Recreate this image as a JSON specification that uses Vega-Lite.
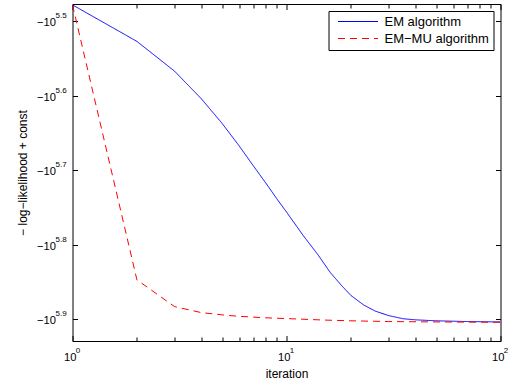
{
  "$schema": "https://vega.github.io/schema/vega-lite/v6.json",
  "width": 428,
  "height": 337,
  "autosize": {"type": "none"},
  "padding": {"left": 72.5, "top": 4, "right": 16.5, "bottom": 44},
  "config": {
    "view": {"stroke": "black", "strokeWidth": 1},
    "font": "Liberation Sans",
    "axis": {"domain": false, "grid": false, "tickColor": "black", "labelColor": "black", "titleColor": "black", "labelFont": "Liberation Sans", "titleFont": "Liberation Sans", "titleFontWeight": "normal", "labelFontSize": 11.2, "titleFontSize": 12}
  },
  "resolve": {"axis": {"x": "independent", "y": "independent"}},
  "layer": [
    {
      "data": {"values": [
        {"it": 1, "e": 5.478, "s": "EM algorithm"},
        {"it": 2, "e": 5.527, "s": "EM algorithm"},
        {"it": 3, "e": 5.567, "s": "EM algorithm"},
        {"it": 4, "e": 5.604, "s": "EM algorithm"},
        {"it": 5, "e": 5.637, "s": "EM algorithm"},
        {"it": 6, "e": 5.667, "s": "EM algorithm"},
        {"it": 7, "e": 5.694, "s": "EM algorithm"},
        {"it": 8, "e": 5.717, "s": "EM algorithm"},
        {"it": 9, "e": 5.738, "s": "EM algorithm"},
        {"it": 10, "e": 5.756, "s": "EM algorithm"},
        {"it": 12, "e": 5.788, "s": "EM algorithm"},
        {"it": 14, "e": 5.813, "s": "EM algorithm"},
        {"it": 16, "e": 5.837, "s": "EM algorithm"},
        {"it": 18, "e": 5.854, "s": "EM algorithm"},
        {"it": 20, "e": 5.868, "s": "EM algorithm"},
        {"it": 23, "e": 5.881, "s": "EM algorithm"},
        {"it": 26, "e": 5.889, "s": "EM algorithm"},
        {"it": 30, "e": 5.895, "s": "EM algorithm"},
        {"it": 35, "e": 5.8992, "s": "EM algorithm"},
        {"it": 40, "e": 5.9007, "s": "EM algorithm"},
        {"it": 50, "e": 5.902, "s": "EM algorithm"},
        {"it": 70, "e": 5.903, "s": "EM algorithm"},
        {"it": 100, "e": 5.9035, "s": "EM algorithm"},
        {"it": 1, "e": 5.478, "s": "EM−MU algorithm"},
        {"it": 2, "e": 5.847, "s": "EM−MU algorithm"},
        {"it": 3, "e": 5.883, "s": "EM−MU algorithm"},
        {"it": 4, "e": 5.891, "s": "EM−MU algorithm"},
        {"it": 5, "e": 5.894, "s": "EM−MU algorithm"},
        {"it": 6, "e": 5.896, "s": "EM−MU algorithm"},
        {"it": 7, "e": 5.897, "s": "EM−MU algorithm"},
        {"it": 8, "e": 5.898, "s": "EM−MU algorithm"},
        {"it": 10, "e": 5.899, "s": "EM−MU algorithm"},
        {"it": 15, "e": 5.901, "s": "EM−MU algorithm"},
        {"it": 20, "e": 5.902, "s": "EM−MU algorithm"},
        {"it": 30, "e": 5.903, "s": "EM−MU algorithm"},
        {"it": 50, "e": 5.9035, "s": "EM−MU algorithm"},
        {"it": 100, "e": 5.904, "s": "EM−MU algorithm"}
      ]},
      "mark": {"type": "line", "strokeWidth": 1, "clip": true},
      "encoding": {
        "x": {
          "field": "it", "type": "quantitative",
          "scale": {"type": "log", "domain": [1, 100], "nice": false},
          "axis": {
            "orient": "bottom",
            "values": [1, 2, 3, 4, 5, 6, 7, 8, 9, 10, 20, 30, 40, 50, 60, 70, 80, 90, 100],
            "labelExpr": "indexof([1, 10, 100], datum.value) >= 0 ? '10' : ''",
            "tickSize": {"condition": {"test": "indexof([1, 10, 100], datum.value) >= 0", "value": -5.5}, "value": -4},
            "labelPadding": 16,
            "labelOffset": -2.7,
            "labelFlush": false,
            "labelOverlap": false,
            "title": "iteration",
            "titlePadding": 4
          }
        },
        "y": {
          "field": "e", "type": "quantitative",
          "scale": {"domain": [5.4768, 5.9291], "reverse": true, "nice": false, "zero": false},
          "axis": {
            "orient": "left",
            "values": [5.5, 5.6, 5.7, 5.8, 5.9],
            "labelExpr": "'−10'",
            "tickSize": -5,
            "labelPadding": 22,
            "labelOffset": 1.5,
            "labelFlush": false,
            "labelOverlap": false,
            "title": "− log−likelihood + const",
            "titlePadding": 7
          }
        },
        "color": {
          "field": "s", "type": "nominal",
          "scale": {"domain": ["EM algorithm", "EM−MU algorithm"], "range": ["#0000ff", "#ff0000"]},
          "legend": {
            "title": null,
            "orient": "top-right",
            "offset": 7,
            "strokeColor": "black",
            "fillColor": "white",
            "padding": 4,
            "labelFontSize": 13,
            "labelFont": "Liberation Sans",
            "labelColor": "black",
            "symbolType": "stroke",
            "symbolSize": 1600,
            "symbolStrokeWidth": 1,
            "symbolOffset": 5,
            "clipHeight": 13,
            "labelOffset": 6,
            "rowPadding": 3,
            "encode": {
              "symbols": {
                "update": {
                  "stroke": {"signal": "datum.value === 'EM−MU algorithm' ? '#ff0000' : '#0000ff'"},
                  "strokeDash": {"signal": "datum.value === 'EM−MU algorithm' ? [7, 5] : [1, 0]"}
                }
              }
            }
          }
        },
        "strokeDash": {
          "field": "s", "type": "nominal",
          "scale": {"domain": ["EM algorithm", "EM−MU algorithm"], "range": [[1, 0], [7, 5]]},
          "legend": null
        }
      }
    },
    {
      "data": {"values": [
        {"it": 1, "e": 5.5, "t": "5.5"},
        {"it": 1, "e": 5.6, "t": "5.6"},
        {"it": 1, "e": 5.7, "t": "5.7"},
        {"it": 1, "e": 5.8, "t": "5.8"},
        {"it": 1, "e": 5.9, "t": "5.9"}
      ]},
      "mark": {"type": "text", "align": "left", "baseline": "middle", "dx": -17, "dy": -5, "fontSize": 8, "font": "Liberation Sans", "color": "black"},
      "encoding": {
        "x": {
          "field": "it", "type": "quantitative",
          "scale": {"type": "log", "domain": [1, 100], "nice": false},
          "axis": {
            "orient": "top",
            "values": [1, 2, 3, 4, 5, 6, 7, 8, 9, 10, 20, 30, 40, 50, 60, 70, 80, 90, 100],
            "labels": false,
            "tickSize": {"condition": {"test": "indexof([1, 10, 100], datum.value) >= 0", "value": -5.5}, "value": -4},
            "title": null
          }
        },
        "y": {
          "field": "e", "type": "quantitative",
          "scale": {"domain": [5.4768, 5.9291], "reverse": true, "nice": false, "zero": false},
          "axis": {
            "orient": "right",
            "values": [5.5, 5.6, 5.7, 5.8, 5.9],
            "labels": false,
            "tickSize": -5,
            "title": null
          }
        },
        "text": {"field": "t"}
      }
    },
    {
      "data": {"values": [
        {"it": 1, "e": 5.9291, "t": "0"},
        {"it": 10, "e": 5.9291, "t": "1"},
        {"it": 100, "e": 5.9291, "t": "2"}
      ]},
      "mark": {"type": "text", "align": "center", "baseline": "middle", "dx": 5.5, "dy": 10.3, "fontSize": 8, "font": "Liberation Sans", "color": "black"},
      "encoding": {
        "x": {"field": "it", "type": "quantitative", "scale": {"type": "log", "domain": [1, 100], "nice": false}, "axis": null},
        "y": {"field": "e", "type": "quantitative", "scale": {"domain": [5.4768, 5.9291], "reverse": true, "nice": false, "zero": false}, "axis": null},
        "text": {"field": "t"}
      }
    }
  ]
}
